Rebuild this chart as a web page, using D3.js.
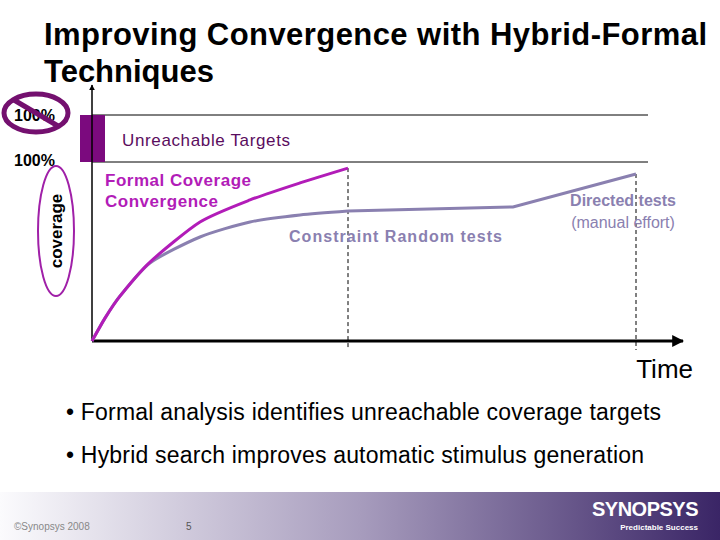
<!DOCTYPE html>
<html><head><meta charset="utf-8">
<script src="https://cdn.jsdelivr.net/npm/d3@7"></script>
<style>body{margin:0;background:#fff}svg{display:block;font-family:Arial,"Liberation Sans",sans-serif}</style>
</head><body>
<script>
// time in arbitrary units, coverage in % of reachable targets
const formalTime = [0, 13, 28, 58, 108, 158, 208, 256];
const formalCov = [0, 12.8, 25.1, 44.1, 66.5, 78.8, 88.3, 96.6];
const randomTime = [0, 13, 28, 58, 108, 158, 208, 256];
const randomCov = [0, 12.8, 25.1, 43.6, 58.1, 66.5, 70.4, 72.6];
const directedTime = [256, 421, 544];
const directedCov = [72.6, 74.9, 93.3];
const phaseEnds = [256, 544];
const bullets = ["Formal analysis identifies unreachable coverage targets",
                 "Hybrid search improves automatic stimulus generation"];
const bulletWidths = [595, 578];

const W = 720, H = 540;
const svg = d3.select("body").append("svg").attr("width", W).attr("height", H);
const x = d3.scaleLinear().domain([0, 591]).range([92, 683]);
const y = d3.scaleLinear().domain([0, 100]).range([341, 162]);

const defs = svg.append("defs");
const g = defs.append("linearGradient").attr("id", "foot");
g.append("stop").attr("offset", "0").attr("stop-color", "#fbfbfd");
g.append("stop").attr("offset", "0.5").attr("stop-color", "#a79cbd");
g.append("stop").attr("offset", "1").attr("stop-color", "#3a2566");
defs.append("marker").attr("id", "arr").attr("viewBox", "0 0 10 10").attr("refX", 9).attr("refY", 5)
  .attr("markerWidth", 4).attr("markerHeight", 4).attr("orient", "auto")
  .append("path").attr("d", "M0,0L10,5L0,10z").attr("fill", "#000");

// title
svg.append("text").attr("x", 44).attr("y", 45).attr("font-size", 31).attr("font-weight", "bold").attr("textLength", 663).text("Improving Convergence with Hybrid-Formal");
svg.append("text").attr("x", 44).attr("y", 82).attr("font-size", 31).attr("font-weight", "bold").text("Techniques");

// unreachable band
svg.append("line").attr("x1", x(0)).attr("x2", 648).attr("y1", 115).attr("y2", 115).attr("stroke", "#000");
svg.append("line").attr("x1", x(0)).attr("x2", 648).attr("y1", y(100)).attr("y2", y(100)).attr("stroke", "#000");
svg.append("rect").attr("x", 80).attr("y", 115).attr("width", 25).attr("height", y(100) - 115).attr("fill", "#7b0a7e");
svg.append("text").attr("x", 122).attr("y", 146).attr("font-size", 17).attr("fill", "#5a0d5e").attr("textLength", 168).text("Unreachable Targets");

// dashed phase lines
svg.selectAll(".ph").data(phaseEnds).join("line")
  .attr("x1", d => x(d)).attr("x2", d => x(d)).attr("y1", (d, i) => i ? y(directedCov[2]) : y(formalCov[7])).attr("y2", 350)
  .attr("stroke", "#000").attr("stroke-dasharray", "4,3");

// axes
svg.append("line").attr("x1", x(0)).attr("x2", x(591)).attr("y1", y(0)).attr("y2", y(0))
  .attr("stroke", "#000").attr("stroke-width", 3).attr("marker-end", "url(#arr)");
svg.append("line").attr("x1", x(0)).attr("x2", x(0)).attr("y1", y(0)).attr("y2", 85)
  .attr("stroke", "#000").attr("stroke-width", 1.5).attr("marker-end", "url(#arr)");

const smooth = d3.line().curve(d3.curveCardinal.tension(0.3));
const straight = d3.line();
svg.append("path").attr("fill", "none").attr("stroke", "#8a80b0").attr("stroke-width", 3)
  .attr("d", smooth(randomTime.map((t, i) => [x(t), y(randomCov[i])])));
svg.append("path").attr("fill", "none").attr("stroke", "#8a80b0").attr("stroke-width", 3)
  .attr("d", straight(directedTime.map((t, i) => [x(t), y(directedCov[i])])));
svg.append("path").attr("fill", "none").attr("stroke", "#b21cb8").attr("stroke-width", 3)
  .attr("d", smooth(formalTime.map((t, i) => [x(t), y(formalCov[i])])));

// labels
svg.append("text").attr("x", 105).attr("y", 186).attr("font-size", 17).attr("font-weight", "bold").attr("fill", "#b21cb8").attr("textLength", 146).text("Formal Coverage");
svg.append("text").attr("x", 105).attr("y", 207).attr("font-size", 17).attr("font-weight", "bold").attr("fill", "#b21cb8").attr("textLength", 113).text("Convergence");
svg.append("text").attr("x", 289).attr("y", 242).attr("font-size", 16).attr("font-weight", "bold").attr("fill", "#8a80b0").attr("textLength", 213).text("Constraint Random tests");
svg.append("text").attr("x", 623).attr("y", 206).attr("font-size", 16).attr("font-weight", "bold").attr("fill", "#8a80b0").attr("text-anchor", "middle").text("Directed tests");
svg.append("text").attr("x", 623).attr("y", 228).attr("font-size", 16).attr("fill", "#8a80b0").attr("text-anchor", "middle").text("(manual effort)");
svg.append("text").attr("x", 693).attr("y", 378).attr("font-size", 26).attr("text-anchor", "end").text("Time");

// y labels
svg.append("text").attr("x", 14).attr("y", 166).attr("font-size", 16).attr("font-weight", "bold").text("100%");
svg.append("ellipse").attr("cx", 56).attr("cy", 231).attr("rx", 18).attr("ry", 65).attr("fill", "none").attr("stroke", "#a020a8").attr("stroke-width", 2);
svg.append("text").attr("transform", "translate(62,231) rotate(-90)").attr("text-anchor", "middle").attr("font-size", 17).attr("font-weight", "bold").text("coverage");
svg.append("text").attr("x", 14).attr("y", 121).attr("font-size", 16).attr("font-weight", "bold").text("100%");
svg.append("ellipse").attr("cx", 36).attr("cy", 113).attr("rx", 32).attr("ry", 19).attr("fill", "none").attr("stroke", "#74106f").attr("stroke-width", 5);
svg.append("line").attr("x1", 14).attr("y1", 100).attr("x2", 58).attr("y2", 126).attr("stroke", "#74106f").attr("stroke-width", 5);

// bullets
svg.selectAll(".b").data(bullets).join("text")
  .attr("x", 66).attr("y", (d, i) => 420 + i * 43).attr("font-size", 23)
  .attr("textLength", (d, i) => bulletWidths[i]).text(d => "\u2022 " + d);

// footer
svg.append("rect").attr("x", 0).attr("y", 492).attr("width", W).attr("height", 48).attr("fill", "url(#foot)");
svg.append("text").attr("x", 14).attr("y", 530).attr("font-size", 10).attr("fill", "#888").text("\u00a9Synopsys 2008");
svg.append("text").attr("x", 186).attr("y", 530).attr("font-size", 10).attr("fill", "#555").text("5");
svg.append("text").attr("x", 698).attr("y", 516).attr("font-size", 20).attr("font-weight", "bold").attr("fill", "#fff").attr("text-anchor", "end").attr("letter-spacing", "-0.5").text("SYNOPSYS");
svg.append("text").attr("x", 698).attr("y", 530).attr("font-size", 8).attr("font-weight", "bold").attr("fill", "#fff").attr("text-anchor", "end").text("Predictable Success");
</script>
</body></html>
